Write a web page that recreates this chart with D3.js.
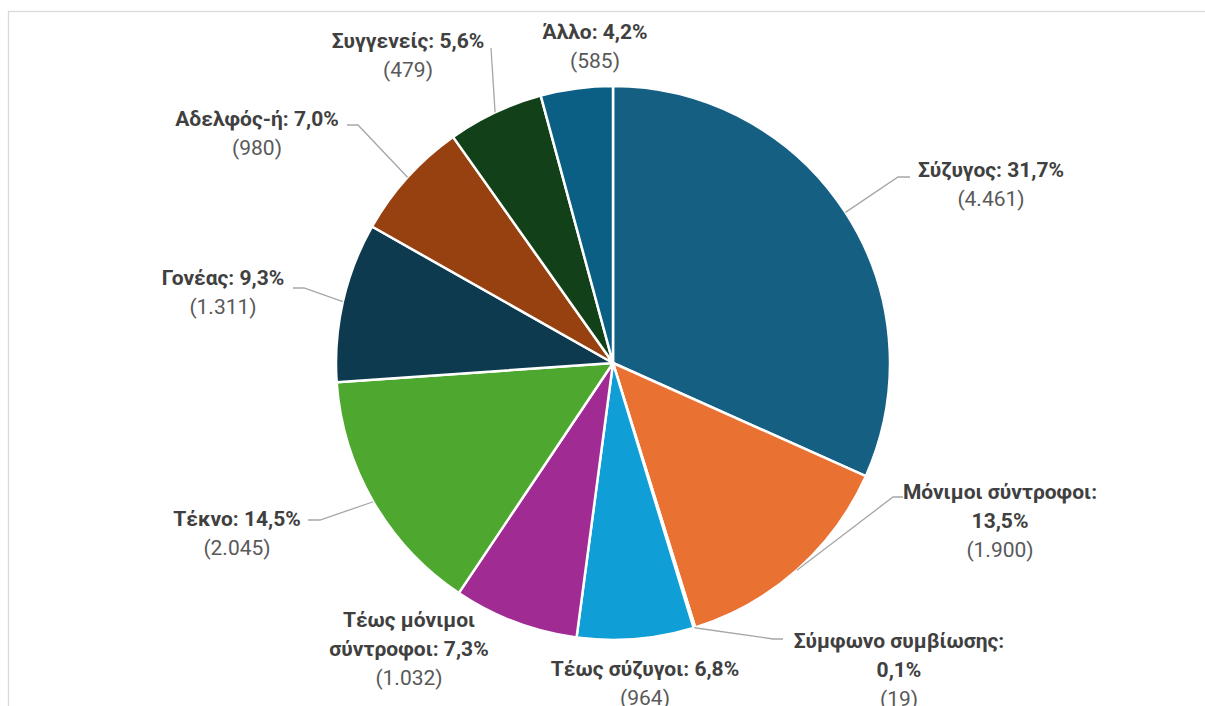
<!DOCTYPE html>
<html>
<head>
<meta charset="utf-8">
<script src="https://cdn.jsdelivr.net/npm/d3@7"></script>
<style>
  body { margin: 0; background: #fff; }
  svg { display: block; font-family: Roboto, "Noto Sans", sans-serif; }
</style>
</head>
<body>
<div id="pie"></div>
<script>
// data
let categories = ['Σύζυγος', 'Μόνιμοι σύντροφοι', 'Σύμφωνο συμβίωσης', 'Τέως σύζυγοι',
  'Τέως μόνιμοι σύντροφοι', 'Τέκνο', 'Γονέας', 'Αδελφός-ή', 'Συγγενείς', 'Άλλο'];
let percents = [31.7, 13.5, 0.1, 6.8, 7.3, 14.5, 9.3, 7.0, 5.6, 4.2];
let counts = [4461, 1900, 19, 964, 1032, 2045, 1311, 980, 479, 585];

let colors = ['#156082', '#E97132', '#196B24', '#0F9ED5', '#A02B93', '#4EA72E',
  '#0D3A4F', '#974010', '#124018', '#0B5F84'];

// label placement: x = text centre, y = first baseline, k = words on first line,
// leader = elbow points from the slice edge to the label
let labelLayout = [
  { x: 991, y: 177, k: 9, leader: [[898, 177], [910, 177]] },
  { x: 1000, y: 499, k: 2, leader: [[893, 497], [903, 497]] },
  { x: 899, y: 648, k: 2, leader: [[773, 639], [783, 639]] },
  { x: 645, y: 676, k: 9, leader: null },
  { x: 409, y: 627, k: 2, leader: null },
  { x: 237, y: 526, k: 9, leader: [[320, 520], [308, 520]] },
  { x: 223, y: 285, k: 9, leader: [[304, 288], [293, 288]] },
  { x: 257, y: 126, k: 9, leader: [[358, 125], [347, 125]] },
  { x: 408, y: 48, k: 9, leader: [[491, 48]] },
  { x: 595, y: 39, k: 9, leader: null }
];

let data = categories.map((c, i) => ({ key: c, pct: percents[i], count: counts[i], i: i }));

let W = 1205, H = 706;
let cx = 613, cy = 363, radius = 277;
let lineH = 29;

let gr = d3.formatLocale({ decimal: ',', thousands: '.', grouping: [3], currency: ['', '€'] });
let fmtPct = gr.format('.1f');
let fmtCount = gr.format(',d');

let svg = d3.select('#pie')
  .append('svg')
  .attr('width', W)
  .attr('height', H);

// chart frame (runs off the right and bottom of the picture)
svg.append('rect')
  .attr('x', 8.5)
  .attr('y', 11.5)
  .attr('width', W + 20)
  .attr('height', H + 20)
  .attr('fill', 'none')
  .attr('stroke', '#d9d9d9')
  .attr('stroke-width', 1.3);

let pie = d3.pie()
  .value(d => d.pct)
  .sort(null);

let arc = d3.arc()
  .innerRadius(0)
  .outerRadius(radius);

let arcs = pie(data);

let g = svg.append('g')
  .attr('transform', `translate(${cx}, ${cy})`);

// slices
g.selectAll('.slice')
  .data(arcs)
  .join('path')
  .attr('class', 'slice')
  .attr('d', arc)
  .attr('fill', d => colors[d.data.i])
  .attr('stroke', '#fff')
  .attr('stroke-width', 2.5)
  .attr('stroke-linejoin', 'round');

// leader lines
let leaders = svg.append('g').attr('class', 'leaders');
arcs.forEach(a => {
  let lay = labelLayout[a.data.i];
  if (!lay.leader) return;
  let mid = (a.startAngle + a.endAngle) / 2;
  let p = d3.pointRadial(mid, radius);
  let pts = [[cx + p[0], cy + p[1]]].concat(lay.leader);
  leaders.append('path')
    .attr('d', d3.line()(pts))
    .attr('fill', 'none')
    .attr('stroke', '#a6a6a6')
    .attr('stroke-width', 1.3);
});

// labels
let labels = svg.append('g').attr('class', 'labels')
  .attr('text-anchor', 'middle')
  .style('font-size', '21px');

data.forEach(d => {
  let lay = labelLayout[d.i];
  let words = (d.key + ': ' + fmtPct(d.pct) + '%').split(' ');
  let lines = [words.slice(0, lay.k).join(' ')];
  if (words.length > lay.k) lines.push(words.slice(lay.k).join(' '));
  let t = labels.append('text')
    .attr('x', lay.x)
    .attr('y', lay.y);
  lines.forEach((ln, j) => {
    t.append('tspan')
      .attr('x', lay.x)
      .attr('y', lay.y + j * lineH)
      .attr('font-weight', 700)
      .attr('fill', '#404040')
      .text(ln);
  });
  t.append('tspan')
    .attr('x', lay.x)
    .attr('y', lay.y + lines.length * lineH)
    .attr('fill', '#595959')
    .text('(' + fmtCount(d.count) + ')');
});
</script>
</body>
</html>
